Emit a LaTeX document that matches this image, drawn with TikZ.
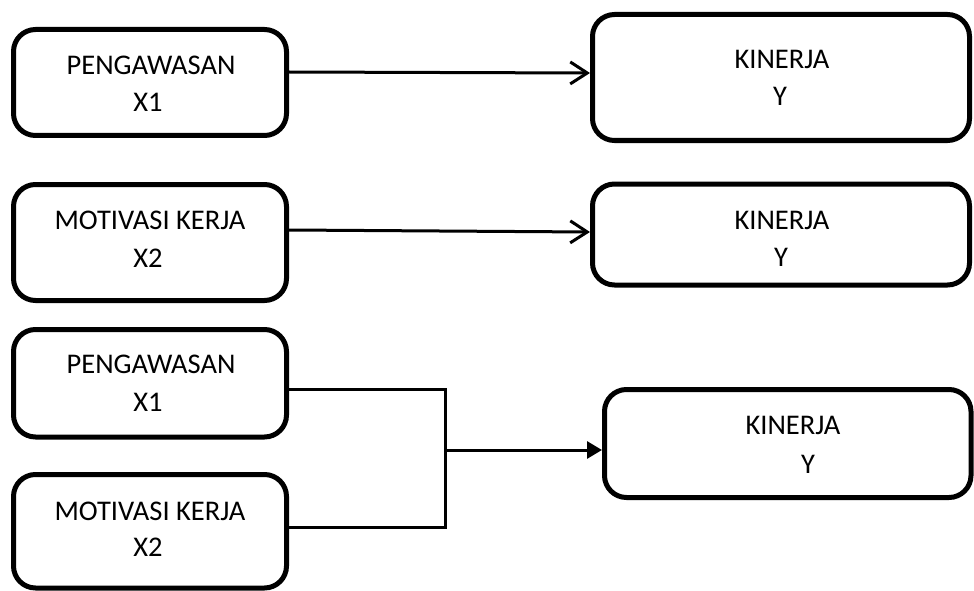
\documentclass[tikz,border=0pt]{standalone}
\usepackage{fontspec}
\setmainfont{Carlito}
\usetikzlibrary{arrows.meta}
\tikzset{
  box/.style={draw=black, line width=5pt, rounded corners=22pt, inner sep=0pt},
  lbl/.style={inner sep=0pt, anchor=base, font=\fontsize{28.5}{34}\selectfont},
  conn/.style={draw=black, line width=3pt},
  arrO/.style={conn, -{Straight Barb[length=17pt,width=22pt,line width=3pt]}},
  arrF/.style={conn, -{Triangle[length=15pt,width=17pt]}}
}
\begin{document}
\begin{tikzpicture}[x=1pt,y=-1pt]
\useasboundingbox (0,0) rectangle (974,591);
% boxes
\node[box, minimum width=273pt, minimum height=106pt] (b1) at (150,82.5) {};
\node[box, minimum width=377pt, minimum height=126pt] (b2) at (781,77.5) {};
\node[box, minimum width=273pt, minimum height=116pt] (b3) at (150,242.5) {};
\node[box, minimum width=377pt, minimum height=101pt] (b4) at (781,234.5) {};
\node[box, minimum width=273pt, minimum height=107.5pt] (b5) at (150,383.25) {};
\node[box, minimum width=273pt, minimum height=113.5pt] (b6) at (150,531.25) {};
\node[box, minimum width=366.5pt, minimum height=108pt] (b7) at (787.75,443.5) {};
% labels
\node[lbl] (t1a) at (151,75) {PENGAWASAN};
\node[lbl] (t1b) at (148,112) {X1};
\node[lbl] (t2a) at (782,69) {KINERJA};
\node[lbl] (t2b) at (780,106) {Y};
\node[lbl] (t3a) at (150,229) {MOTIVASI KERJA};
\node[lbl] (t3b) at (148,267) {X2};
\node[lbl] (t4a) at (782,229) {KINERJA};
\node[lbl] (t4b) at (781,266) {Y};
\node[lbl] (t5a) at (151,373) {PENGAWASAN};
\node[lbl] (t5b) at (148,411) {X1};
\node[lbl] (t6a) at (150,520) {MOTIVASI KERJA};
\node[lbl] (t6b) at (148,556) {X2};
\node[lbl] (t7a) at (793,434) {KINERJA};
\node[lbl] (t7b) at (808,473) {Y};
% connectors
\draw[arrO] ([yshift=10.5pt]b1.east) -- ([yshift=4.5pt]b2.west);
\draw[arrO] ([yshift=12.5pt]b3.east) -- ([yshift=2.5pt]b4.west);
\coordinate (j) at (445,450);
\draw[conn, line join=miter] ([yshift=-5.75pt]b5.east) -| (j) |- ([yshift=4.25pt]b6.east);
\draw[arrF] (j) -- (b7.west |- j);
\end{tikzpicture}
\end{document}
